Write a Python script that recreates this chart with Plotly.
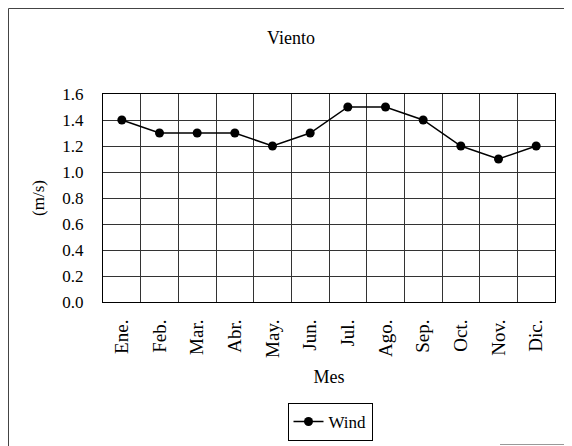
import plotly.graph_objects as go

months = ["Ene.", "Feb.", "Mar.", "Abr.", "May.", "Jun.", "Jul.", "Ago.", "Sep.", "Oct.", "Nov.", "Dic."]
wind = [1.4, 1.3, 1.3, 1.3, 1.2, 1.3, 1.5, 1.5, 1.4, 1.2, 1.1, 1.2]
y_ticks = [0.0, 0.2, 0.4, 0.6, 0.8, 1.0, 1.2, 1.4, 1.6]

# page has an 8px body margin; work in page coordinates and shift
OFF = 8
W, H = 572 - OFF, 446 - OFF
PL, PR, PT, PB = 103, 555, 94, 302  # plot area in page pixels
L, R, T, B = PL - OFF, W - (PR - OFF), PT - OFF, H - (PB - OFF)
pw, ph = W - L - R, H - T - B

def px2x(px):
    return (px - OFF - L) / pw

def py2y(py):
    return (H - B - (py - OFF)) / ph

FONT = "Liberation Serif, Times New Roman, serif"

fig = go.Figure()
fig.add_trace(go.Scatter(
    x=months, y=wind, mode="lines+markers", name="Wind",
    line=dict(color="black", width=1.5),
    marker=dict(color="black", size=9, symbol="circle"),
))

fig.update_layout(
    width=W, height=H,
    margin=dict(l=L, r=R, t=T, b=B, autoexpand=False),
    paper_bgcolor="white", plot_bgcolor="white",
    font=dict(family=FONT, size=16, color="black"),
    title=dict(text="Viento", x=(291 - OFF) / W, xref="container", xanchor="center",
               y=1 - (38 - OFF) / H, yref="container", yanchor="middle",
               font=dict(family=FONT, size=18, color="black")),
    showlegend=True,
    legend=dict(orientation="h", x=px2x(330), xanchor="center", xref="paper",
                y=py2y(403), yanchor="top", yref="paper",
                bordercolor="black", borderwidth=1, bgcolor="white",
                font=dict(family=FONT, size=17, color="black"),
                itemwidth=30),
    xaxis=dict(
        type="category", tickson="boundaries", range=[-0.5, 11.5],
        showgrid=True, gridcolor="#333333", gridwidth=1,
        showline=True, linecolor="black", linewidth=1, mirror=True,
        ticks="", ticklabelstandoff=9,
        tickangle=-90, tickfont=dict(family=FONT, size=19),
        title=dict(text="Mes", standoff=13, font=dict(family=FONT, size=18)),
        automargin=False,
    ),
    yaxis=dict(
        range=[0, 1.6], tickvals=y_ticks, tickformat=".1f",
        showgrid=True, gridcolor="#333333", gridwidth=1,
        showline=True, linecolor="black", linewidth=1, mirror=True,
        ticks="outside", ticklen=15, tickcolor="rgba(0,0,0,0)",
        tickfont=dict(family=FONT, size=17),
        title=dict(text="(m/s)", standoff=13, font=dict(family=FONT, size=17)),
        zeroline=False, automargin=False,
    ),
    shapes=[
        dict(type="line", xref="paper", yref="paper",
             x0=px2x(8.5), x1=px2x(572), y0=py2y(8.5), y1=py2y(8.5),
             line=dict(color="#444444", width=1)),
        dict(type="line", xref="paper", yref="paper",
             x0=px2x(8.5), x1=px2x(8.5), y0=py2y(8.5), y1=py2y(446),
             line=dict(color="#444444", width=1)),
        dict(type="line", xref="paper", yref="paper",
             x0=px2x(500), x1=px2x(572), y0=py2y(444.5), y1=py2y(444.5),
             line=dict(color="#999999", width=1)),
    ],
)

fig.write_html("out.html")
